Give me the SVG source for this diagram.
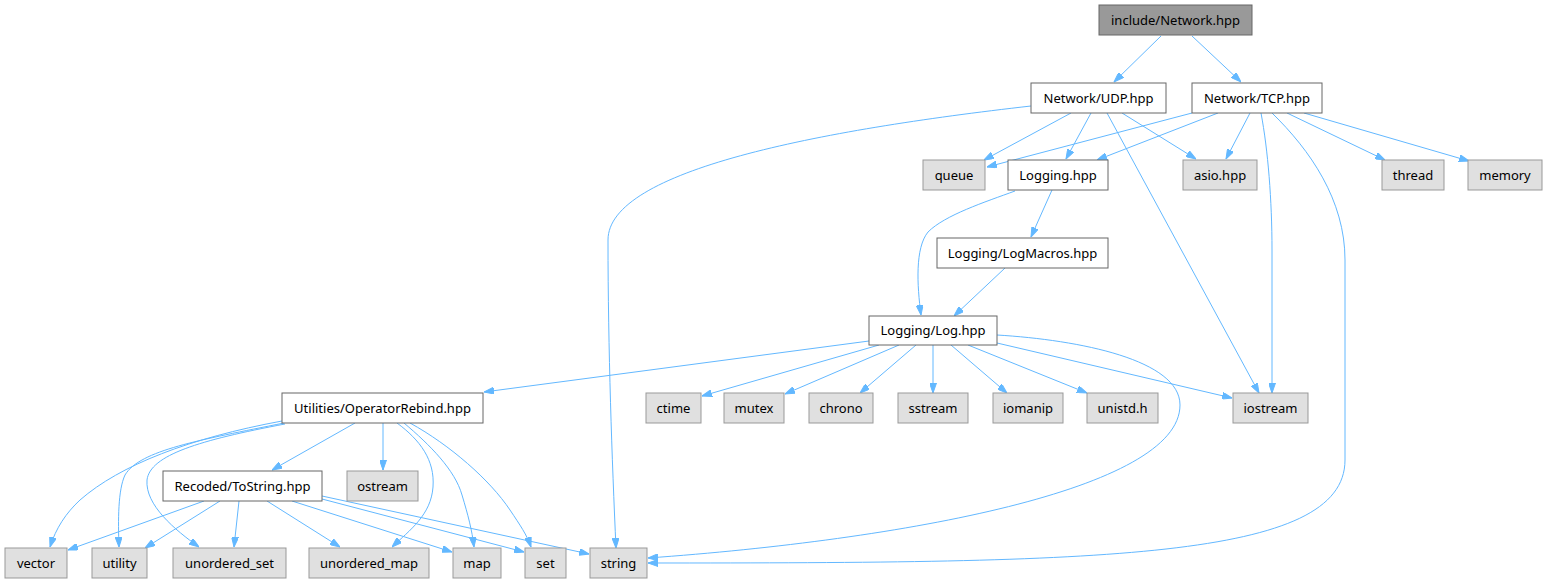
<svg xmlns="http://www.w3.org/2000/svg" width="1548" height="584" viewBox="0 0 1548 584">
<style>
.n rect{fill:#ffffff;stroke:#666666;stroke-width:1}
.g rect{fill:#e0e0e0;stroke:#999999;stroke-width:1}
.r rect{fill:#999999;stroke:#666666;stroke-width:1}
text{font-family:"Noto Sans","DejaVu Sans",sans-serif;font-size:13px;fill:#000000;text-anchor:middle}
#edges path{fill:none;stroke:#63b8ff;stroke-width:1;marker-end:url(#arr)}
</style>
<defs>
<marker id="arr" viewBox="0 0 10 7" refX="10" refY="3.5" markerWidth="10" markerHeight="7" markerUnits="userSpaceOnUse" orient="auto">
<path d="M0,0 L10,3.5 L0,7 z" fill="#63b8ff" stroke="#63b8ff" stroke-width="1"/>
</marker>
</defs>
<rect width="1548" height="584" fill="#ffffff"/>
<g id="edges">
<path d="M1161,36 L1114,82"/>
<path d="M1192,36 L1241,82"/>
<path d="M1071,113 L984,160"/>
<path d="M1091,113 L1066,159"/>
<path d="M1122,113 L1196,159"/>
<path d="M1107,113 L1259,393"/>
<path d="M1031,106 C820,130 608,170 608,240 C608,350 612,460 616,548"/>
<path d="M1192,113 L987,167"/>
<path d="M1218,113 L1097,160"/>
<path d="M1250,113 L1226,159"/>
<path d="M1261,113 C1268,150 1272,200 1272,250 L1272,393"/>
<path d="M1272,113 C1310,150 1345,200 1345,260 L1345,460 C1345,560 1100,563 648,563"/>
<path d="M1287,113 L1385,160"/>
<path d="M1304,113 L1469,161"/>
<path d="M1052,190 L1031,237"/>
<path d="M1015,191 C985,202 945,215 928,232 C915,248 917,285 921,315"/>
<path d="M1005,268 L954,316"/>
<path d="M869,341 L484,392"/>
<path d="M879,345 L702,396"/>
<path d="M899,345 L785,394"/>
<path d="M916,345 L860,393"/>
<path d="M933,345 L933,393"/>
<path d="M951,345 L1007,393"/>
<path d="M968,345 L1087,393"/>
<path d="M997,343 L1232,398"/>
<path d="M997,335 C1080,340 1180,360 1180,405 C1180,490 900,540 648,558"/>
<path d="M355,423 L272,470"/>
<path d="M383,423 L383,470"/>
<path d="M282,421 C190,438 120,465 80,500 C66,513 56,528 50,547"/>
<path d="M284,423 C200,440 140,450 125,475 C118,490 118,520 119,547"/>
<path d="M285,424 C200,440 150,455 147,480 C145,505 175,530 199,547"/>
<path d="M397,423 C420,440 435,460 433,487 C431,515 410,530 392,547"/>
<path d="M404,423 C430,445 455,470 462,495 C468,515 472,530 474,547"/>
<path d="M410,423 C450,445 490,480 510,510 C520,525 527,535 531,547"/>
<path d="M204,501 L68,550"/>
<path d="M220,501 L145,548"/>
<path d="M239,501 L234,547"/>
<path d="M267,501 L340,547"/>
<path d="M292,501 L452,552"/>
<path d="M322,499 L524,552"/>
<path d="M322,496 L589,554"/>
</g>
<g id="node1" class="r"><rect x="1099" y="5" width="153" height="30"/><text x="1175.5" y="24.5">include/Network.hpp</text></g>
<g id="node2" class="n"><rect x="1031" y="83" width="135" height="30"/><text x="1098.5" y="102.5">Network/UDP.hpp</text></g>
<g id="node3" class="n"><rect x="1192" y="83" width="130" height="30"/><text x="1257" y="102.5">Network/TCP.hpp</text></g>
<g id="node4" class="g"><rect x="923" y="160" width="62" height="30"/><text x="954" y="179.5">queue</text></g>
<g id="node5" class="n"><rect x="1008" y="160" width="100" height="30"/><text x="1058" y="179.5">Logging.hpp</text></g>
<g id="node6" class="g"><rect x="1183" y="160" width="74" height="30"/><text x="1220" y="179.5">asio.hpp</text></g>
<g id="node7" class="g"><rect x="1382" y="160" width="62" height="30"/><text x="1413" y="179.5">thread</text></g>
<g id="node8" class="g"><rect x="1468" y="160" width="74" height="30"/><text x="1505" y="179.5">memory</text></g>
<g id="node9" class="n"><rect x="937" y="238" width="171" height="30"/><text x="1022.5" y="257.5">Logging/LogMacros.hpp</text></g>
<g id="node10" class="n"><rect x="869" y="316" width="128" height="29"/><text x="933" y="335">Logging/Log.hpp</text></g>
<g id="node11" class="n"><rect x="282" y="393" width="201" height="30"/><text x="382.5" y="412.5">Utilities/OperatorRebind.hpp</text></g>
<g id="node12" class="g"><rect x="646" y="393" width="55" height="30"/><text x="673.5" y="412.5">ctime</text></g>
<g id="node13" class="g"><rect x="724" y="393" width="60" height="30"/><text x="754" y="412.5">mutex</text></g>
<g id="node14" class="g"><rect x="809" y="393" width="64" height="30"/><text x="841" y="412.5">chrono</text></g>
<g id="node15" class="g"><rect x="898" y="393" width="70" height="30"/><text x="933" y="412.5">sstream</text></g>
<g id="node16" class="g"><rect x="993" y="393" width="70" height="30"/><text x="1028" y="412.5">iomanip</text></g>
<g id="node17" class="g"><rect x="1087" y="393" width="71" height="30"/><text x="1122.5" y="412.5">unistd.h</text></g>
<g id="node18" class="g"><rect x="1233" y="393" width="75" height="30"/><text x="1270.5" y="412.5">iostream</text></g>
<g id="node19" class="n"><rect x="163" y="471" width="159" height="30"/><text x="242.5" y="490.5">Recoded/ToString.hpp</text></g>
<g id="node20" class="g"><rect x="347" y="471" width="71" height="30"/><text x="382.5" y="490.5">ostream</text></g>
<g id="node21" class="g"><rect x="5" y="548" width="62" height="30"/><text x="36" y="567.5">vector</text></g>
<g id="node22" class="g"><rect x="92" y="548" width="55" height="30"/><text x="119.5" y="567.5">utility</text></g>
<g id="node23" class="g"><rect x="173" y="548" width="113" height="30"/><text x="229.5" y="567.5">unordered_set</text></g>
<g id="node24" class="g"><rect x="309" y="548" width="120" height="30"/><text x="369" y="567.5">unordered_map</text></g>
<g id="node25" class="g"><rect x="453" y="548" width="48" height="30"/><text x="477" y="567.5">map</text></g>
<g id="node26" class="g"><rect x="525" y="548" width="41" height="30"/><text x="545.5" y="567.5">set</text></g>
<g id="node27" class="g"><rect x="590" y="548" width="57" height="30"/><text x="618.5" y="567.5">string</text></g>
</svg>
